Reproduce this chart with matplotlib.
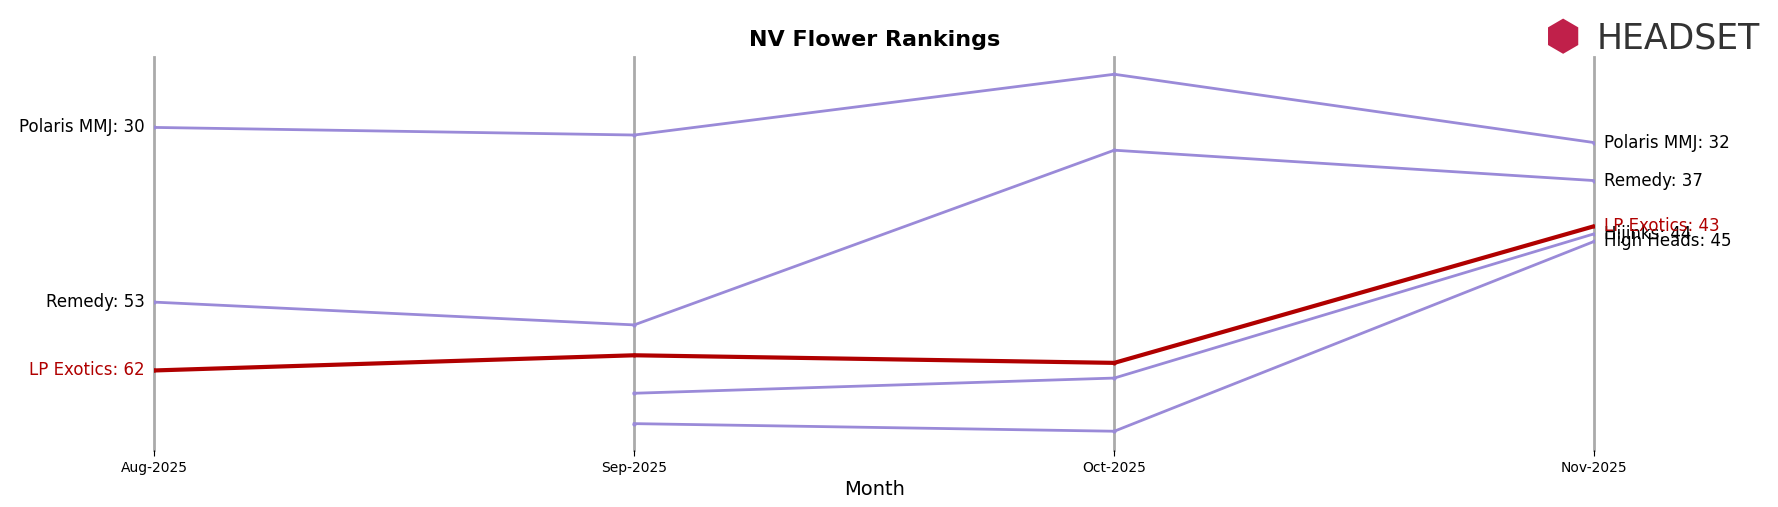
import matplotlib
matplotlib.use("Agg")
import matplotlib.pyplot as plt
import numpy as np

months = ["Aug-2025", "Sep-2025", "Oct-2025", "Nov-2025"]
polaris = [30, 31, 23, 32]
remedy = [53, 56, 33, 37]
lp = [62, 60, 61, 43]
hijinks = [np.nan, 65, 63, 44]
highheads = [np.nan, 69, 70, 45]

fig = plt.figure(figsize=(17.78, 5.07), dpi=100)
ax = fig.add_axes([0.0867, 0.112, 0.810, 0.776])
x = np.arange(len(months))
purple = "#9a8ad8"
for s in [polaris, remedy, hijinks, highheads]:
    ax.plot(x, s, color=purple, lw=2, marker="o", ms=2)
ax.plot(x, lp, color="#b00000", lw=3, marker="o", ms=2)
for xi in x:
    ax.axvline(xi, color="#aaaaaa", lw=2, zorder=0, clip_on=False)
ax.set_xlim(0, 3)
ax.set_ylim(72.5, 20.7)
ax.set_yticks([])
ax.set_xticks(x)
ax.set_xticklabels(months, fontsize=10)
ax.tick_params(axis="x", length=4)
for sp in ax.spines.values():
    sp.set_visible(False)
ax.set_xlabel("Month", fontsize=14)
ax.set_title("NV Flower Rankings", fontsize=16, fontweight="bold", pad=8)

ax.text(-0.02, polaris[0], f"Polaris MMJ: {polaris[0]}", ha="right", va="center", fontsize=12)
ax.text(-0.02, remedy[0], f"Remedy: {remedy[0]}", ha="right", va="center", fontsize=12)
ax.text(-0.02, lp[0], f"LP Exotics: {lp[0]}", ha="right", va="center", fontsize=12, color="#b00000")
ax.text(3.02, polaris[3], f"Polaris MMJ: {polaris[3]}", ha="left", va="center", fontsize=12)
ax.text(3.02, remedy[3], f"Remedy: {remedy[3]}", ha="left", va="center", fontsize=12)
ax.text(3.02, hijinks[3], f"Hijinks: {hijinks[3]}", ha="left", va="center", fontsize=12)
ax.text(3.02, highheads[3], f"High Heads: {highheads[3]}", ha="left", va="center", fontsize=12)
ax.text(3.02, lp[3], f"LP Exotics: {lp[3]}", ha="left", va="center", fontsize=12, color="#b00000")

fig.text(0.898, 0.925, "HEADSET", fontsize=25, color="#333333", ha="left", va="center")
fig.text(0.879, 0.925, "⬢", fontsize=30, color="#c0204a", ha="center", va="center")
fig.savefig("out.png", dpi=100)
